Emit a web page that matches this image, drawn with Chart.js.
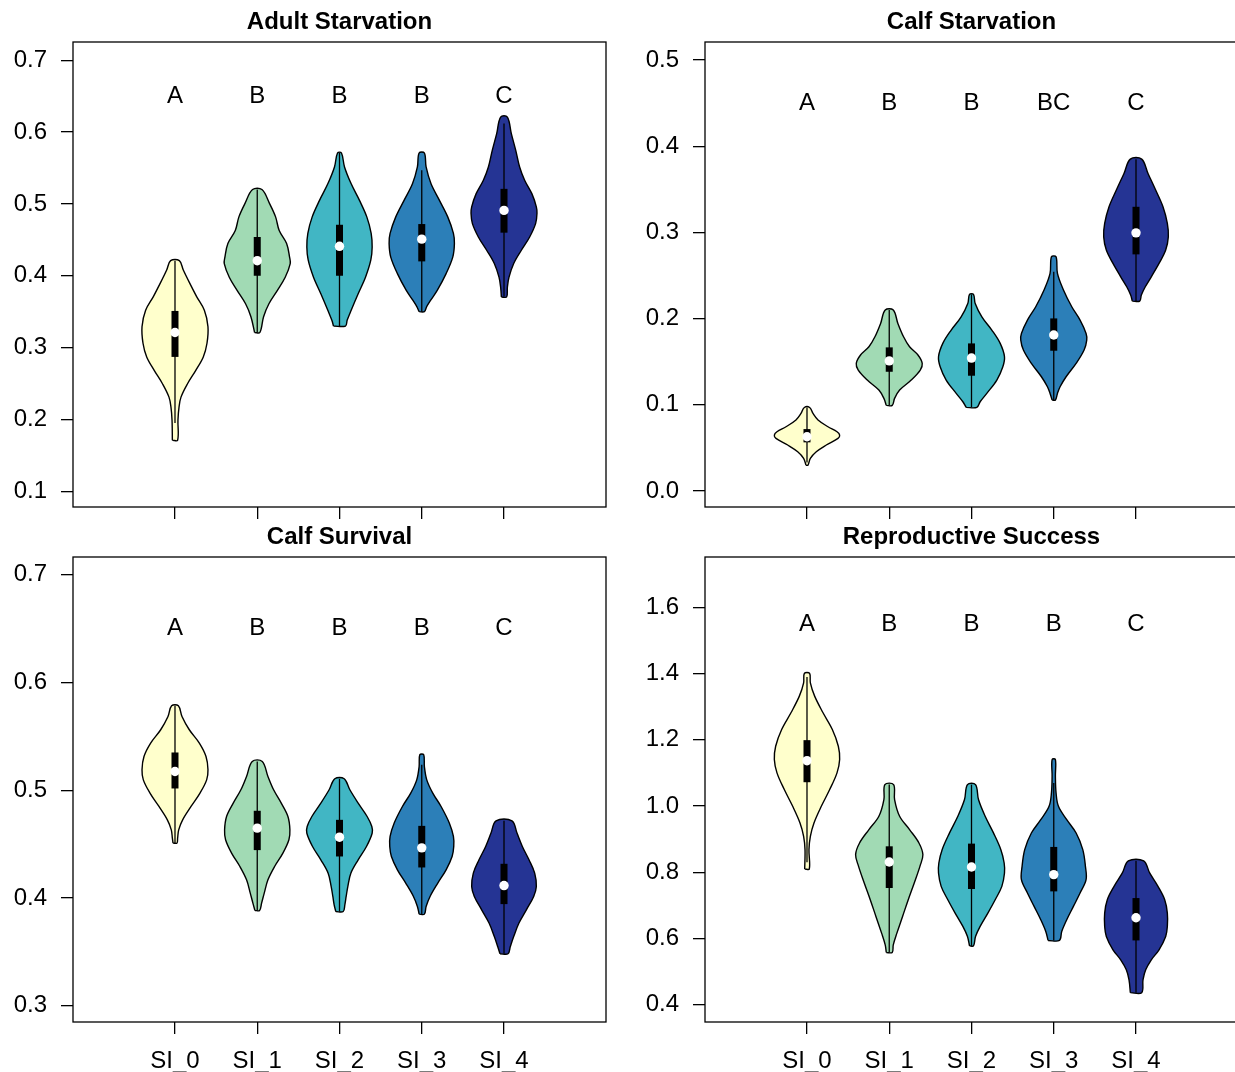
<!DOCTYPE html>
<html>
<head>
<meta charset="utf-8">
<title>Violin plots by scenario</title>
<script src="https://cdn.jsdelivr.net/npm/chart.js@4/dist/chart.umd.min.js"></script>
<style>
  html, body { margin: 0; padding: 0; background: #fff; overflow: hidden; }
  #wrap { position: relative; width: 1235px; height: 1072px; overflow: hidden; background: #fff; }
  canvas { position: absolute; }
</style>
</head>
<body>
<div id="wrap">
  <canvas id="calfSurv" width="618" height="550" style="left:0px;top:522px"></canvas>
  <canvas id="repro" width="625" height="550" style="left:618px;top:522px"></canvas>
  <canvas id="adult" width="618" height="537" style="left:0px;top:0px"></canvas>
  <canvas id="calfStarv" width="625" height="537" style="left:618px;top:0px"></canvas>
</div>
<script>
// ---- shared ----
const categories = ['SI_0', 'SI_1', 'SI_2', 'SI_3', 'SI_4'];
const violinColors = ['#FFFFCC', '#A1DAB4', '#41B6C4', '#2C7FB8', '#253494'];

// ---- Adult Starvation ----
const adultLetters = ['A', 'B', 'B', 'B', 'C'];
const adultYTicks = [0.1, 0.2, 0.3, 0.4, 0.5, 0.6, 0.7];
// density profile per group: value levels (top to bottom) and half-widths
const adultLevels = [
  [0.421, 0.408, 0.389, 0.371, 0.352, 0.329, 0.306, 0.287, 0.268, 0.250, 0.231, 0.217, 0.199, 0.171],
  [0.520, 0.5005, 0.482, 0.463, 0.445, 0.426, 0.417, 0.398, 0.380, 0.361, 0.343, 0.321],
  [0.571, 0.5515, 0.528, 0.505, 0.482, 0.459, 0.440, 0.422, 0.398, 0.375, 0.352, 0.338, 0.330],
  [0.571, 0.5515, 0.528, 0.505, 0.482, 0.459, 0.445, 0.426, 0.403, 0.380, 0.366, 0.357, 0.350],
  [0.621, 0.598, 0.575, 0.5515, 0.533, 0.514, 0.496, 0.487, 0.473, 0.454, 0.4355, 0.417, 0.398, 0.384, 0.3705]
];
const adultWidths = [
  [0.053, 0.101, 0.182, 0.263, 0.357, 0.401, 0.389, 0.344, 0.251, 0.154, 0.073, 0.049, 0.036, 0.032],
  [0.057, 0.150, 0.223, 0.267, 0.357, 0.393, 0.401, 0.340, 0.247, 0.142, 0.077, 0.032],
  [0.024, 0.061, 0.142, 0.243, 0.332, 0.385, 0.397, 0.381, 0.316, 0.227, 0.142, 0.093, 0.073],
  [0.032, 0.053, 0.113, 0.215, 0.316, 0.385, 0.397, 0.377, 0.296, 0.190, 0.109, 0.060, 0.032],
  [0.041, 0.089, 0.142, 0.190, 0.251, 0.340, 0.393, 0.401, 0.385, 0.312, 0.211, 0.118, 0.061, 0.041, 0.032]
];
const adultQ1 = [0.287, 0.400, 0.400, 0.420, 0.460];
const adultQ3 = [0.351, 0.454, 0.471, 0.472, 0.521];
const adultMedian = [0.321, 0.421, 0.441, 0.451, 0.491];
const adultWhiskerLo = [0.195, 0.321, 0.330, 0.350, 0.371];
const adultWhiskerHi = [0.421, 0.520, 0.571, 0.547, 0.612];

// ---- Calf Starvation ----
const calfStarvLetters = ['A', 'B', 'B', 'BC', 'C'];
const calfStarvYTicks = [0.0, 0.1, 0.2, 0.3, 0.4, 0.5];
const calfStarvLevels = [
  [0.097, 0.090, 0.0824, 0.0746, 0.0688, 0.065, 0.0611, 0.0534, 0.0456, 0.0379, 0.030],
  [0.210, 0.1945, 0.179, 0.1674, 0.1578, 0.1481, 0.1404, 0.1288, 0.1172, 0.1075, 0.0994],
  [0.2282, 0.2177, 0.2022, 0.1868, 0.1713, 0.1558, 0.1442, 0.1288, 0.1133, 0.1036, 0.0971],
  [0.2718, 0.2525, 0.2332, 0.2138, 0.1984, 0.1829, 0.1752, 0.1636, 0.1481, 0.1326, 0.121, 0.1133, 0.1056],
  [0.3851, 0.3685, 0.3492, 0.3298, 0.3105, 0.295, 0.2796, 0.2641, 0.2486, 0.237, 0.2274, 0.2204]
];
const calfStarvWidths = [
  [0.032, 0.073, 0.134, 0.255, 0.365, 0.397, 0.377, 0.235, 0.113, 0.041, 0.012],
  [0.049, 0.105, 0.174, 0.247, 0.349, 0.401, 0.377, 0.267, 0.126, 0.065, 0.036],
  [0.024, 0.045, 0.126, 0.247, 0.349, 0.401, 0.381, 0.308, 0.186, 0.105, 0.065],
  [0.028, 0.045, 0.118, 0.219, 0.320, 0.393, 0.401, 0.369, 0.272, 0.150, 0.077, 0.045, 0.020],
  [0.069, 0.146, 0.239, 0.328, 0.381, 0.393, 0.361, 0.280, 0.186, 0.113, 0.065, 0.045]
];
const calfStarvQ1 = [0.0565, 0.1384, 0.1338, 0.1628, 0.2746];
const calfStarvQ3 = [0.0719, 0.1667, 0.1713, 0.2003, 0.3298];
const calfStarvMedian = [0.063, 0.151, 0.1543, 0.181, 0.2996];
const calfStarvWhiskerLo = [0.033, 0.0994, 0.0971, 0.1056, 0.2204];
const calfStarvWhiskerHi = [0.097, 0.210, 0.2282, 0.2544, 0.3851];

// ---- Calf Survival ----
const calfSurvLetters = ['A', 'B', 'B', 'B', 'C'];
const calfSurvYTicks = [0.3, 0.4, 0.5, 0.6, 0.7];
const calfSurvLevels = [
  [0.5784, 0.5685, 0.5562, 0.5438, 0.5314, 0.519, 0.5097, 0.4974, 0.485, 0.4726, 0.4633, 0.4556, 0.451],
  [0.5268, 0.5129, 0.5005, 0.4881, 0.4757, 0.4633, 0.4541, 0.4417, 0.4293, 0.4169, 0.4046, 0.3953, 0.3885],
  [0.5107, 0.5005, 0.4881, 0.4757, 0.4664, 0.4602, 0.4479, 0.4355, 0.4231, 0.4107, 0.4015, 0.3937, 0.3875],
  [0.533, 0.5221, 0.5097, 0.4974, 0.485, 0.4695, 0.4572, 0.4479, 0.4386, 0.4262, 0.4139, 0.4015, 0.3922, 0.3851],
  [0.4717, 0.4603, 0.4479, 0.4355, 0.4232, 0.4107, 0.4015, 0.3891, 0.3768, 0.3643, 0.3551, 0.3483]
];
const calfSurvWidths = [
  [0.041, 0.085, 0.174, 0.296, 0.377, 0.401, 0.385, 0.304, 0.195, 0.093, 0.045, 0.032, 0.024],
  [0.061, 0.130, 0.199, 0.292, 0.373, 0.397, 0.385, 0.312, 0.211, 0.130, 0.085, 0.053, 0.028],
  [0.057, 0.126, 0.227, 0.336, 0.393, 0.397, 0.328, 0.227, 0.138, 0.101, 0.081, 0.065, 0.045],
  [0.024, 0.032, 0.061, 0.134, 0.235, 0.336, 0.385, 0.389, 0.369, 0.296, 0.195, 0.101, 0.053, 0.032],
  [0.097, 0.158, 0.223, 0.304, 0.373, 0.393, 0.361, 0.272, 0.182, 0.118, 0.077, 0.049]
];
const calfSurvQ1 = [0.5017, 0.4445, 0.4386, 0.4284, 0.3944];
const calfSurvQ3 = [0.5351, 0.481, 0.4726, 0.467, 0.4318];
const calfSurvMedian = [0.5175, 0.4649, 0.4565, 0.4466, 0.4116];
const calfSurvWhiskerLo = [0.451, 0.3885, 0.3875, 0.3851, 0.3483];
const calfSurvWhiskerHi = [0.5784, 0.5268, 0.5107, 0.5237, 0.4717];

// ---- Reproductive Success ----
const reproLetters = ['A', 'B', 'B', 'B', 'C'];
const reproYTicks = [0.4, 0.6, 0.8, 1.0, 1.2, 1.4, 1.6];
const reproLevels = [
  [1.4005, 1.3722, 1.3319, 1.2816, 1.2312, 1.1807, 1.1405, 1.1002, 1.0498, 0.9993, 0.9491, 0.9087, 0.8684, 0.81],
  [1.0649, 1.0196, 0.9692, 0.9289, 0.8886, 0.8533, 0.818, 0.7676, 0.7172, 0.6667, 0.6164, 0.581, 0.558],
  [1.0649, 1.0196, 0.9692, 0.9189, 0.8684, 0.8281, 0.7979, 0.7575, 0.7172, 0.6769, 0.6366, 0.6063, 0.578],
  [1.1405, 1.0901, 1.0397, 0.9993, 0.9589, 0.9186, 0.8684, 0.818, 0.7777, 0.7374, 0.697, 0.6567, 0.6213, 0.5943],
  [0.8345, 0.798, 0.7575, 0.7172, 0.6769, 0.6366, 0.6063, 0.566, 0.5358, 0.5055, 0.4753, 0.4366]
];
const reproWidths = [
  [0.032, 0.041, 0.093, 0.195, 0.308, 0.381, 0.397, 0.365, 0.276, 0.174, 0.085, 0.041, 0.024, 0.028],
  [0.053, 0.065, 0.126, 0.247, 0.361, 0.409, 0.373, 0.304, 0.231, 0.162, 0.093, 0.049, 0.036],
  [0.049, 0.085, 0.166, 0.267, 0.357, 0.397, 0.401, 0.369, 0.288, 0.199, 0.105, 0.049, 0.024],
  [0.020, 0.020, 0.028, 0.057, 0.158, 0.272, 0.353, 0.385, 0.393, 0.320, 0.239, 0.158, 0.097, 0.069],
  [0.093, 0.166, 0.267, 0.349, 0.381, 0.381, 0.361, 0.280, 0.186, 0.118, 0.085, 0.069]
];
const reproQ1 = [1.072, 0.7525, 0.7496, 0.7424, 0.5943];
const reproQ3 = [1.199, 0.8785, 0.8866, 0.8766, 0.7222];
const reproMedian = [1.137, 0.831, 0.816, 0.793, 0.6628];
const reproWhiskerLo = [0.83, 0.558, 0.578, 0.5943, 0.4366];
const reproWhiskerHi = [1.39, 1.0649, 1.0649, 1.07, 0.8345];

// ---- panel setup ----
const FONT = '"Liberation Sans", Arial, Helvetica, sans-serif';
Chart.defaults.font.family = FONT;
Chart.defaults.font.size = 24;
Chart.defaults.color = '#000';

const panels = [
  { canvas: 'adult', title: 'Adult Starvation', letters: adultLetters, letterAt: 0.65,
    yMin: 0.078, yMax: 0.7255, yTicks: adultYTicks,
    levels: adultLevels, widths: adultWidths, q1: adultQ1, q3: adultQ3, med: adultMedian,
    lo: adultWhiskerLo, hi: adultWhiskerHi,
    showLabels: false, yAxisWidth: 73, xAxisHeight: 30, padTop: 42, padRight: 12 },
  { canvas: 'calfStarv', title: 'Calf Starvation', letters: calfStarvLetters, letterAt: 0.45,
    yMin: -0.0185, yMax: 0.521, yTicks: calfStarvYTicks,
    levels: calfStarvLevels, widths: calfStarvWidths, q1: calfStarvQ1, q3: calfStarvQ3, med: calfStarvMedian,
    lo: calfStarvWhiskerLo, hi: calfStarvWhiskerHi,
    showLabels: false, yAxisWidth: 87, xAxisHeight: 30, padTop: 42, padRight: 5 },
  { canvas: 'calfSurv', title: 'Calf Survival', letters: calfSurvLetters, letterAt: 0.65,
    yMin: 0.285, yMax: 0.7165, yTicks: calfSurvYTicks,
    levels: calfSurvLevels, widths: calfSurvWidths, q1: calfSurvQ1, q3: calfSurvQ3, med: calfSurvMedian,
    lo: calfSurvWhiskerLo, hi: calfSurvWhiskerHi,
    showLabels: true, yAxisWidth: 73, xAxisHeight: 50, padTop: 35, padRight: 12 },
  { canvas: 'repro', title: 'Reproductive Success', letters: reproLetters, letterAt: 1.55,
    yMin: 0.348, yMax: 1.752, yTicks: reproYTicks,
    levels: reproLevels, widths: reproWidths, q1: reproQ1, q3: reproQ3, med: reproMedian,
    lo: reproWhiskerLo, hi: reproWhiskerHi,
    showLabels: true, yAxisWidth: 87, xAxisHeight: 50, padTop: 35, padRight: 5 }
];

function buildDatasets(p) {
  const sets = [];
  p.levels.forEach((lv, i) => {
    const c = i + 1;
    const w = p.widths[i];
    const last = lv.length - 1;
    const pts = [];
    // left outline from bottom to top, then right outline back down, closing at the bottom
    for (let j = last; j >= 0; j--) pts.push({ x: c - w[j], y: lv[j] });
    for (let j = 0; j <= last; j++) pts.push({ x: c + w[j], y: lv[j] });
    pts.push({ x: c - w[last], y: lv[last] });
    sets.push({
      violin: true, data: pts, order: 4,
      backgroundColor: violinColors[i], borderColor: '#000', borderWidth: 1.4,
      borderJoinStyle: 'round', tension: 0.35, fill: false,
      pointRadius: 0, pointHoverRadius: 0
    });
    sets.push({
      data: [{ x: c, y: p.lo[i] }, { x: c, y: p.hi[i] }], order: 3,
      borderColor: '#000', borderWidth: 1.3, tension: 0, fill: false,
      pointRadius: 0, pointHoverRadius: 0
    });
    sets.push({
      data: [{ x: c, y: p.q1[i] }, { x: c, y: p.q3[i] }], order: 2,
      borderColor: '#000', borderWidth: 7, borderCapStyle: 'butt', tension: 0, fill: false,
      pointRadius: 0, pointHoverRadius: 0
    });
  });
  sets.push({
    data: p.med.map((m, i) => ({ x: i + 1, y: m })), order: 1,
    showLine: false, pointRadius: 4.7, pointHoverRadius: 4.7,
    pointBackgroundColor: '#fff', pointBorderWidth: 0, pointBorderColor: '#fff'
  });
  return sets;
}

function framePlugin(p) {
  return {
    id: 'panelFrame',
    beforeDatasetDraw(chart, args) {
      const ds = chart.data.datasets[args.index];
      if (!ds.violin) return;
      const line = args.meta.dataset;
      line.updateControlPoints(chart.chartArea, 'x');
      const pts = args.meta.data;
      const ctx = chart.ctx;
      ctx.save();
      ctx.beginPath();
      ctx.moveTo(pts[0].x, pts[0].y);
      for (let k = 1; k < pts.length; k++) {
        const a = pts[k - 1], b = pts[k];
        if (a.cp2x !== undefined && b.cp1x !== undefined) {
          ctx.bezierCurveTo(a.cp2x, a.cp2y, b.cp1x, b.cp1y, b.x, b.y);
        } else {
          ctx.lineTo(b.x, b.y);
        }
      }
      ctx.closePath();
      ctx.fillStyle = ds.backgroundColor;
      ctx.fill();
      ctx.restore();
    },
    afterDraw(chart) {
      const { ctx, chartArea: a, scales: { x, y } } = chart;
      ctx.save();
      ctx.strokeStyle = '#000';
      ctx.lineWidth = 1.3;
      ctx.strokeRect(a.left, a.top, a.right - a.left, a.bottom - a.top);
      ctx.fillStyle = '#000';
      ctx.textAlign = 'center';
      ctx.textBaseline = 'middle';
      ctx.font = 'bold 24px ' + FONT;
      ctx.fillText(p.title, (a.left + a.right) / 2, a.top - 20);
      ctx.font = '24px ' + FONT;
      p.letters.forEach((t, i) => {
        ctx.fillText(t, x.getPixelForValue(i + 1), y.getPixelForValue(p.letterAt));
      });
      ctx.restore();
    }
  };
}

panels.forEach(p => {
  new Chart(document.getElementById(p.canvas), {
    type: 'line',
    data: { datasets: buildDatasets(p) },
    plugins: [framePlugin(p)],
    options: {
      animation: false,
      responsive: false,
      maintainAspectRatio: false,
      devicePixelRatio: 1,
      events: [],
      layout: { padding: { top: p.padTop, right: p.padRight, left: 0, bottom: 0 } },
      plugins: { legend: { display: false }, tooltip: { enabled: false }, title: { display: false } },
      scales: {
        x: {
          type: 'linear', min: -0.24, max: 6.24,
          afterBuildTicks: s => { s.ticks = categories.map((_, i) => ({ value: i + 1 })); },
          afterFit: s => { s.height = p.xAxisHeight; },
          border: { display: false },
          grid: { drawOnChartArea: false, drawTicks: true, tickLength: 12, color: '#000', lineWidth: 1.3 },
          ticks: {
            autoSkip: false, maxRotation: 0, minRotation: 0, padding: 13, color: '#000',
            font: { size: 24 },
            callback: v => (p.showLabels ? categories[Math.round(v) - 1] : '')
          }
        },
        y: {
          type: 'linear', min: p.yMin, max: p.yMax,
          afterBuildTicks: s => { s.ticks = p.yTicks.map(v => ({ value: v })); },
          afterFit: s => { s.width = p.yAxisWidth; },
          border: { display: false },
          grid: { drawOnChartArea: false, drawTicks: true, tickLength: 12, color: '#000', lineWidth: 1.3 },
          ticks: {
            autoSkip: false, padding: 14, color: '#000', font: { size: 24 },
            callback: v => Number(v).toFixed(1)
          }
        }
      }
    }
  });
});
</script>
</body>
</html>
